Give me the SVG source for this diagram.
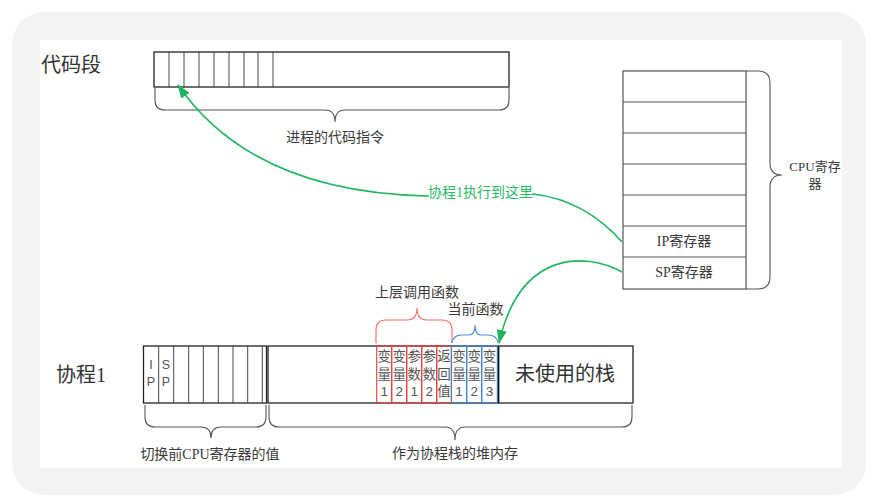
<svg xmlns="http://www.w3.org/2000/svg" width="878" height="503" viewBox="0 0 878 503">
<defs>
<style>
.box{fill:#fff;stroke:#222;stroke-width:1.3}
.cell{fill:none;stroke:#333;stroke-width:0.9}
.reg{fill:#fff;stroke:#555;stroke-width:1.2}
.brace{fill:none;stroke:#555;stroke-width:1.1}
.lbl{font-family:"Liberation Serif","Noto Sans CJK SC",serif;font-size:14px;fill:#3a3a3a;text-anchor:middle}
.big{font-family:"Liberation Serif","Noto Sans CJK SC",serif;font-size:20px;fill:#333}
.ct{font-family:"Liberation Sans","Noto Sans CJK SC",sans-serif;font-size:13.5px;fill:#555;text-anchor:middle}
.rc{fill:none;stroke:#f03c3c;stroke-width:1.1}
.bc{fill:none;stroke:#3a86d0;stroke-width:1.1}
.conn{fill:none;stroke:#22b564;stroke-width:1.6}
</style>
<marker id="ah" viewBox="0 0 14 10" refX="13" refY="5" markerWidth="14" markerHeight="10" markerUnits="userSpaceOnUse" orient="auto">
<path d="M0,0 L14,5 L0,10 z" fill="#1db45a"/>
</marker>
</defs>

<rect x="0" y="0" width="878" height="503" fill="#fff"/>
<rect x="12" y="12" width="854" height="483" rx="32" fill="#f3f3f3"/>
<rect x="40" y="40" width="802" height="428" fill="#fff"/>

<g id="code-seg">
<rect class="box" x="154" y="52" width="355" height="35"/>
<path class="cell" d="M169,52V87M184,52V87M199,52V87M214,52V87M229,52V87M244,52V87M258,52V87M273,52V87"/>
<text class="big" x="41" y="72">代码段</text>
<path class="brace" d="M155,88 L155,100 Q155,110 165,110 L325,110 Q335,110 335,122 Q335,110 345,110 L499,110 Q509,110 509,100 L509,88"/>
<text class="lbl" x="335" y="142">进程的代码指令</text>
</g>

<g id="cpu-regs">
<rect class="reg" x="623" y="71" width="123" height="218"/>
<path class="reg" d="M623,102H746M623,133H746M623,164H746M623,195H746M623,226H746M623,257H746"/>
<text class="lbl" x="684" y="246">IP寄存器</text>
<text class="lbl" x="684" y="277">SP寄存器</text>
<path class="brace" d="M746,71 L758,71 Q770,71 770,83 L770,163 Q770,175 782,175 Q770,175 770,187 L770,277 Q770,289 758,289 L746,289"/>
<text class="lbl" x="815" y="171" style="font-size:13px">CPU寄存</text>
<text class="lbl" x="815" y="188" style="font-size:13px">器</text>
</g>

<g id="coroutine">
<text class="big" x="56" y="382">协程1</text>
<rect class="box" x="143.5" y="346" width="123" height="57"/>
<path class="cell" d="M158.7,346V403M173.7,346V403M188.7,346V403M203.3,346V403M218.3,346V403M233,346V403M247.7,346V403M262.3,346V403"/>
<text class="ct" x="151" y="369" style="font-size:12.5px">I</text>
<text class="ct" x="151" y="386" style="font-size:12.5px">P</text>
<text class="ct" x="166" y="369" style="font-size:12.5px">S</text>
<text class="ct" x="166" y="386" style="font-size:12.5px">P</text>
<path class="brace" d="M145,405 L145,417 Q145,427 155,427 L201,427 Q211,427 211,438 Q211,427 221,427 L256,427 Q266,427 266,417 L266,405"/>
<text class="lbl" x="210" y="459">切换前CPU寄存器的值</text>
</g>

<g id="heap-stack">
<rect class="box" x="268" y="346" width="365" height="57"/>
<path d="M498.3,346V403" stroke="#111" stroke-width="2.2"/>
<path class="brace" d="M269,405 L269,417 Q269,427 279,427 L445,427 Q455,427 455,440 Q455,427 465,427 L622,427 Q632,427 632,417 L632,405"/>
<text class="lbl" x="455" y="458">作为协程栈的堆内存</text>
<text class="big" x="565" y="381" text-anchor="middle">未使用的栈</text>
</g>

<g id="caller-frame">
<rect class="rc" x="376.7" y="346" width="15" height="57"/>
<rect class="rc" x="391.7" y="346" width="15" height="57"/>
<rect class="rc" x="406.7" y="346" width="15" height="57"/>
<rect class="rc" x="421.7" y="346" width="15" height="57"/>
<rect class="rc" x="436.7" y="346" width="14.6" height="57"/>
<text class="ct" x="384.2" y="361">变</text><text class="ct" x="384.2" y="379">量</text><text class="ct" x="384.2" y="396">1</text>
<text class="ct" x="399.2" y="361">变</text><text class="ct" x="399.2" y="379">量</text><text class="ct" x="399.2" y="396">2</text>
<text class="ct" x="414.2" y="361">参</text><text class="ct" x="414.2" y="379">数</text><text class="ct" x="414.2" y="396">1</text>
<text class="ct" x="429.2" y="361">参</text><text class="ct" x="429.2" y="379">数</text><text class="ct" x="429.2" y="396">2</text>
<text class="ct" x="444" y="361">返</text><text class="ct" x="444" y="379">回</text><text class="ct" x="444" y="396">值</text>
<path d="M376,343 L376,330 Q376,320 386,320 L407,320 Q417,320 417,308 Q417,320 427,320 L442,320 Q452,320 452,330 L452,343" fill="none" stroke="#f56a6a" stroke-width="1.1"/>
<text class="lbl" x="417" y="297">上层调用函数</text>
</g>

<g id="current-frame">
<rect class="bc" x="451.5" y="346" width="15.2" height="57"/>
<rect class="bc" x="466.7" y="346" width="15" height="57"/>
<rect class="bc" x="481.7" y="346" width="15.6" height="57"/>
<text class="ct" x="459" y="361">变</text><text class="ct" x="459" y="379">量</text><text class="ct" x="459" y="396">1</text>
<text class="ct" x="474.2" y="361">变</text><text class="ct" x="474.2" y="379">量</text><text class="ct" x="474.2" y="396">2</text>
<text class="ct" x="489.4" y="361">变</text><text class="ct" x="489.4" y="379">量</text><text class="ct" x="489.4" y="396">3</text>
<path d="M452,343 Q453,335 462,335 L469,335 Q475,335 475,325 Q475,335 481,335 L488,335 Q497,335 498,343" fill="none" stroke="#4a90d8" stroke-width="1.1"/>
<text class="lbl" x="475.5" y="314">当前函数</text>
</g>

<g id="connectors">
<path class="conn" d="M622,242 Q585,200 533,194 L427,196 Q252,192 178,85" marker-end="url(#ah)"/>
<path class="conn" d="M622,272 C585,252 520,250 499,343" marker-end="url(#ah)"/>
<rect x="429" y="183" width="103" height="18" fill="#fff"/>
<text x="480.5" y="197" text-anchor="middle" style="font-family:'Liberation Serif','Noto Sans CJK SC',serif;font-size:14px;fill:#2cb86a">协程1执行到这里</text>
</g>
</svg>
